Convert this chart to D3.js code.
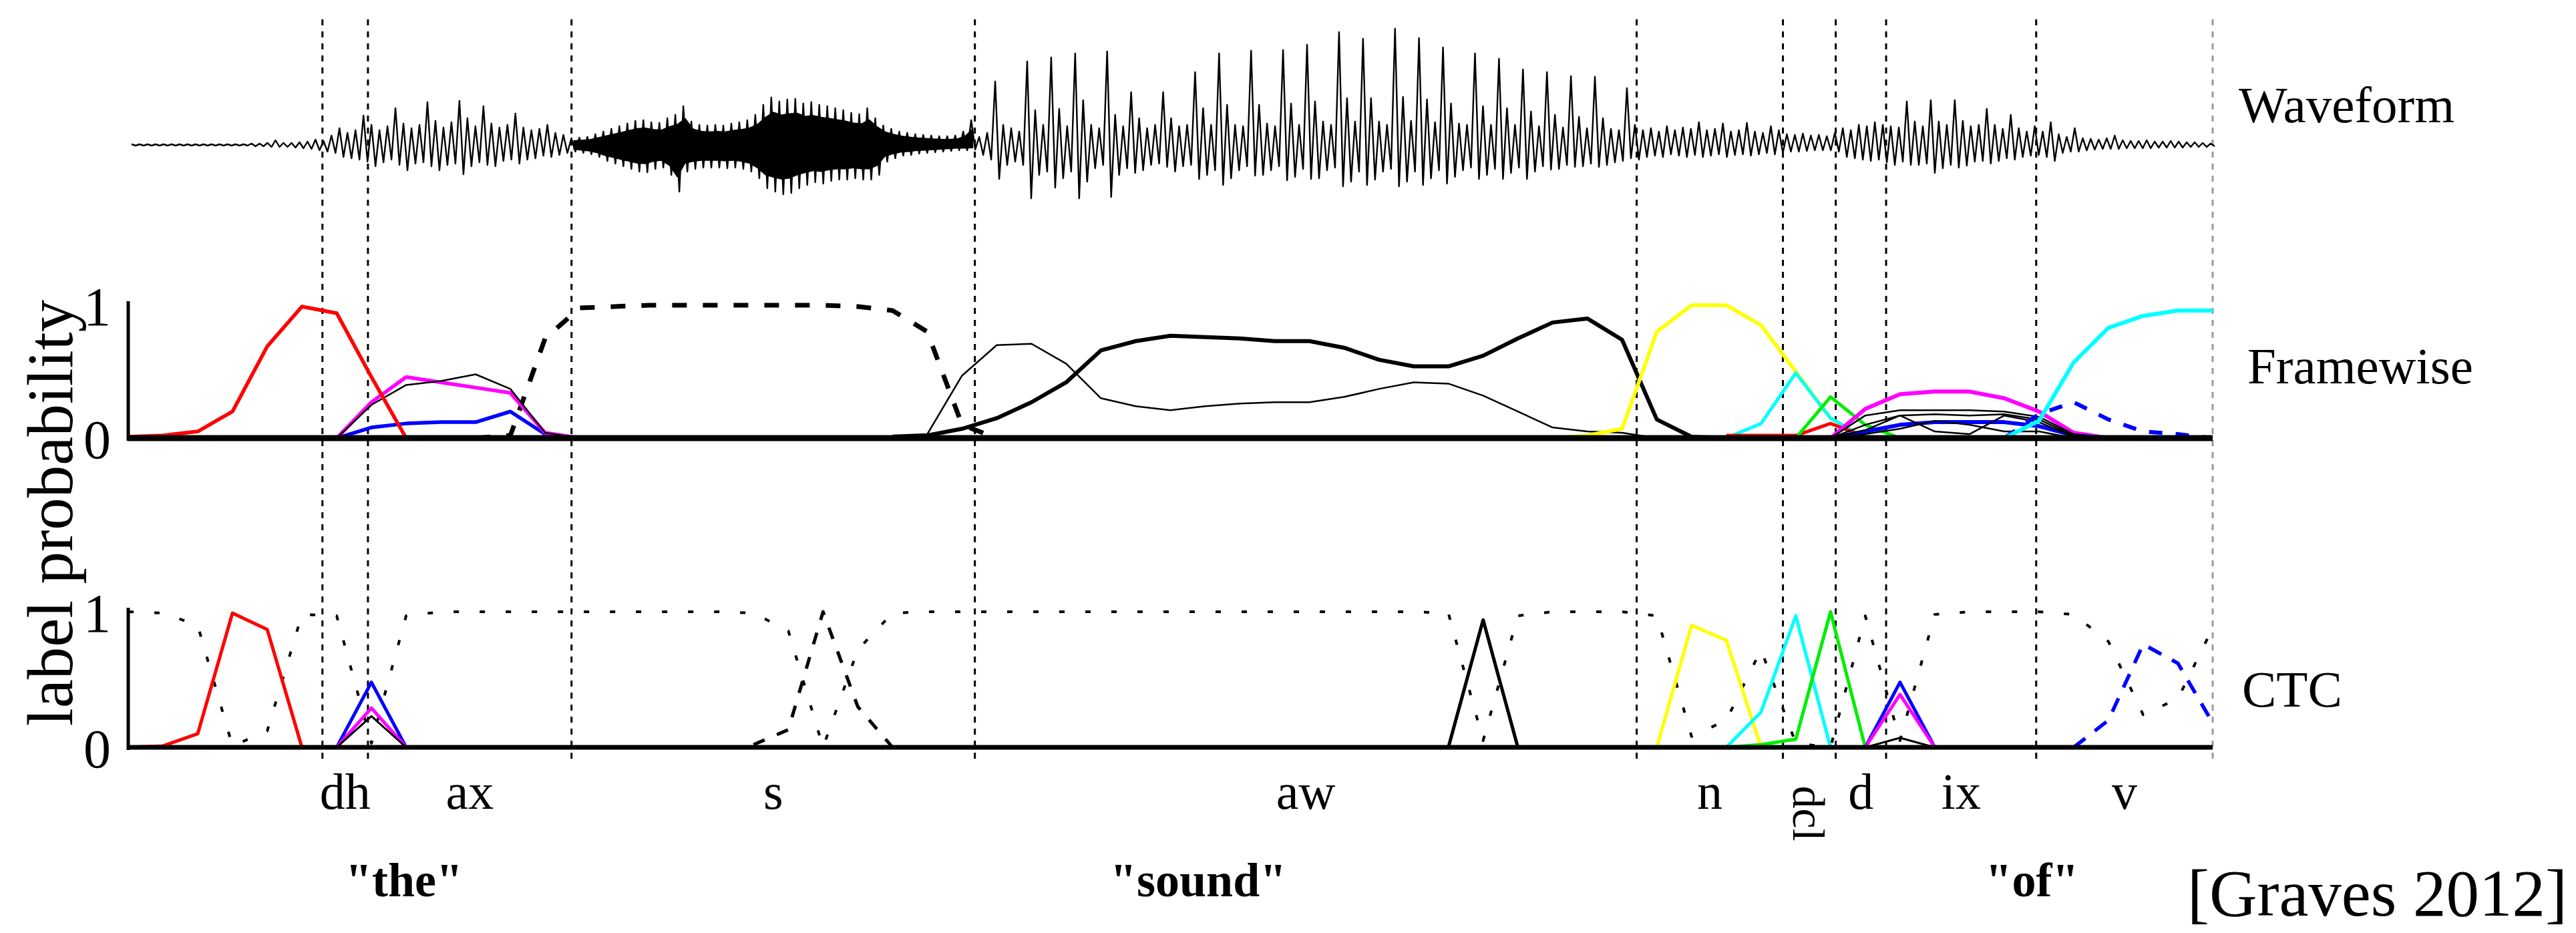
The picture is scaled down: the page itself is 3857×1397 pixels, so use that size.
<!DOCTYPE html>
<html><head><meta charset="utf-8">
<script src="https://cdn.jsdelivr.net/npm/d3@7"></script>
<style>body{margin:0;background:#fff}text{font-family:"Liberation Serif","Times New Roman",serif;fill:#000}</style>
</head><body>
<svg id="chart" width="3857" height="1397"></svg>
<script>
// ---------- DATA ----------
// phone boundaries (in frames) and labels
const boundaries = [5.59, 6.9, 12.76, 24.37, 43.42, 47.63, 49.15, 50.6, 54.92, 60];
const phoneLabels = ["dh", "ax", "s", "aw", "n", "dcl", "d", "ix", "v"];
const wordLabels = ['"the"', '"sound"', '"of"'];
const wordFrames = [7.94, 30.8, 54.8];
const panelNames = ["Waveform", "Framewise", "CTC"];
const tickValues = [0, 1];

// waveform envelope per time bucket (max, min amplitude)
const waveHi = [1,1,1,1,1,1,1,1,1,1,1,1,1,1,1,2,2,3,7,3,3,4,5,
 8,6,14,25,18,22,44,30,22,28,55,32,25,30,64,36,26,34,66,40,28,58,32,26,30,47,26,22,24,30,18,15,
 10,11,12,16,20,24,28,32,36,37,34,33,40,45,58,35,30,29,30,29,32,34,37,45,60,71,65,68,69,62,64,60,58,55,52,48,46,55,40,29,24,20,18,16,15,14,13,13,14,20,37,
 12,18,95,30,25,20,125,52,30,131,54,28,137,67,30,25,140,45,28,79,40,25,30,79,40,28,30,109,55,30,137,60,30,28,141,60,32,28,142,62,30,150,65,35,30,169,70,35,159,70,35,30,174,72,36,160,68,34,146,62,32,30,137,58,30,129,55,30,113,50,28,109,45,26,103,42,25,102,40,24,22,85,30,
 22,25,20,28,22,26,24,34,22,24,32,20,22,33,20,18,28,22,16,15,17,14,15,13,18,25,22,30,28,34,30,
 28,26,65,35,28,67,35,30,67,36,28,30,54,30,24,45,25,20,28,20,34,16,12,25,10,9,8,10,14,7,6,6,7,5,5,6,5,4,4,3,2];
const waveLo = [-1,-1,-1,-1,-1,-1,-1,-1,-1,-1,-1,-1,-1,-1,-1,-2,-2,-3,-3,-3,-4,-5,-6,
 -8,-10,-12,-18,-20,-22,-25,-32,-26,-22,-30,-38,-28,-26,-32,-38,-30,-28,-44,-32,-26,-30,-32,-24,-22,-28,-22,-20,-16,-18,-15,-12,
 -10,-12,-14,-18,-24,-28,-32,-36,-40,-41,-36,-34,-45,-70,-40,-36,-34,-34,-34,-35,-34,-36,-40,-50,-65,-70,-74,-72,-65,-60,-56,-58,-54,-52,-52,-50,-52,-52,-45,-25,-20,-16,-15,-13,-12,-11,-10,-9,-8,-8,-7,
 -15,-22,-51,-30,-25,-30,-80,-45,-40,-64,-50,-40,-80,-55,-35,-30,-78,-45,-35,-42,-38,-30,-28,-33,-40,-32,-30,-51,-45,-38,-60,-50,-38,-32,-46,-45,-38,-32,-53,-48,-36,-51,-50,-38,-34,-62,-55,-40,-60,-52,-40,-36,-62,-55,-40,-60,-50,-38,-58,-48,-38,-34,-51,-45,-36,-51,-42,-34,-51,-40,-32,-37,-36,-30,-33,-32,-28,-33,-30,-26,-24,-20,-22,
 -18,-16,-18,-14,-16,-18,-15,-18,-16,-14,-18,-15,-14,-16,-14,-12,-14,-12,-10,-10,-9,-8,-8,-8,-10,-18,-20,-22,-24,-22,-26,
 -30,-25,-30,-30,-28,-42,-35,-30,-34,-31,-25,-24,-28,-24,-20,-22,-18,-16,-15,-18,-24,-12,-10,-10,-8,-7,-6,-6,-6,-5,-5,-5,-5,-4,-4,-4,-4,-3,-3,-3,-2];

// Framewise label probabilities (values from the given start frame)
const fwDh      = [0.01,0.02,0.05,0.2,0.69,0.99,0.94,0.46,0];            // from frame 0
const fwAxMag   = [0,0.27,0.46,0.42,0.38,0.34,0.04,0];                    // from 6
const fwAxBlack = [0,0.25,0.40,0.43,0.48,0.37,0.04,0];                    // from 6
const fwAxBlue  = [0,0.08,0.11,0.12,0.12,0.2,0.03,0];                     // from 6
const fwS       = [0,0.02,0.75,0.98,0.99,1,1,1,1,1,1,0.99,0.96,0.8,0.1,0]; // from 10
const fwAwThin  = [0.02,0.03,0.47,0.7,0.71,0.56,0.30,0.24,0.21,0.24,0.26,0.27,0.27,0.31,0.37,0.42,0.41,0.32,0.2,0.08,0.05,0.04,0]; // from 22
const fwAwThick = [0,0.02,0.07,0.15,0.27,0.42,0.66,0.73,0.77,0.76,0.75,0.73,0.73,0.68,0.59,0.54,0.54,0.62,0.75,0.87,0.9,0.74,0.14,0.01,0]; // from 22
const fwN       = [0,0.02,0.07,0.8,1,1,0.85,0.5,0.15,0];                  // from 41
const fwDcl     = [0,0,0.11,0.49,0.15,0];                                 // from 45
const fwD       = [0,0,0.31,0.1,0];                                       // from 47
const fwRedD    = [0.02,0.02,0.02,0.11,0.01,0];                           // from 46
const fwIxMag   = [0,0.22,0.33,0.35,0.35,0.3,0.2,0.04,0];                 // from 49
const fwIxBlue  = [0,0.05,0.1,0.12,0.12,0.12,0.09,0.02,0];                // from 49
const fwIxBlackA= [0,0.17,0.21,0.21,0.21,0.2,0.16,0.03,0];                // from 49
const fwIxBlackB= [0,0.1,0.17,0.18,0.17,0.18,0.14,0.02,0];                // from 49
const fwIxBlackC= [0,0.06,0.17,0.05,0.03,0.17,0.12,0.01,0];               // from 49
const fwIxBlackD= [0,0.03,0.07,0.13,0.1,0.05,0.05,0,0];                   // from 49
const fwV       = [0,0.18,0.27,0.14,0.05,0.03,0];                         // from 54
const fwSil     = [0,0.13,0.57,0.83,0.92,0.96,0.96];                      // from 54

// CTC label probabilities
const ctcBlank = [1,0.99,0.9,0.01,0.12,0.98,0.97,0.03,0.97,1,1,1,1,1,1,1,1,1,0.99,0.86,0,0.72,0.99,
 1,1,1,1,1,1,1,1,1,1,1,1,1,1,1,0.99,0.05,0.97,1,1,1,0.97,0.08,0.2,0.72,0.03,0,0.97,0.05,0.98,1,1,1,0.98,0.78,0.24,0.36,0.88]; // from 0
const ctcDh      = [0,0.01,0.1,0.99,0.87,0];   // from 0
const ctcAxBlue  = [0,0.48,0];                  // from 6
const ctcAxMag   = [0,0.29,0];                  // from 6
const ctcAxBlack = [0,0.23,0];                  // from 6
const ctcS       = [0.02,0.13,1,0.3,0];         // from 18
const ctcAw      = [0,0.94,0];                  // from 38
const ctcN       = [0,0,0.9,0.79,0];            // from 43
const ctcDcl     = [0,0,0.26,0.97,0];           // from 45
const ctcD       = [0,0.02,0.06,1,0];           // from 46
const ctcIxBlue  = [0,0.48,0];                  // from 50
const ctcIxMag   = [0,0.39,0];                  // from 50
const ctcIxBlack = [0,0.07,0];                  // from 50
const ctcV       = [0,0.2,0.76,0.62,0.18];      // from 56

// ---------- DRAWING ----------
const FONT = "Liberation Serif, Times New Roman, serif";
const svg = d3.select("#chart");
const x  = d3.scaleLinear().domain([0, 60]).range([192, 3313]);
const yFW = d3.scaleLinear().domain([0, 1]).range([656, 457]);
const yCT = d3.scaleLinear().domain([0, 1]).range([1119, 916]);
const xw = d3.scaleLinear().domain([0, waveHi.length - 1]).range([200, 3313]);
const yw = d3.scaleLinear().domain([-180, 180]).range([397, 37]);

// phone boundary lines
svg.append("g").selectAll("line").data(boundaries).join("line")
  .attr("x1", d => x(d)).attr("x2", d => x(d))
  .attr("y1", 29).attr("y2", 1144)
  .attr("stroke", (d, i) => i === boundaries.length - 1 ? "#9a9a9a" : "#000")
  .attr("stroke-width", 3).attr("stroke-dasharray", "9,9");

// waveform: dense noise core for the fricative segment
const sIdx = d3.range(waveHi.length).filter(k => {
  const f = x.invert(xw(k)); return f >= boundaries[2] && f <= boundaries[3];
});
svg.append("path").datum(sIdx)
  .attr("d", d3.area().x(k => xw(k)).y0(k => yw(waveLo[k] * 0.7)).y1(k => yw(waveHi[k] * 0.7)))
  .attr("fill", "#000");
const wpts = [];
waveHi.forEach((h, k) => { wpts.push([xw(k) - 3, yw(h)]); wpts.push([xw(k) + 3, yw(waveLo[k])]); });
svg.append("path").attr("d", d3.line()(wpts))
  .attr("fill", "none").attr("stroke", "#000").attr("stroke-width", 2.4).attr("stroke-linejoin", "round");

function drawSeries(list, y) {
  const g = svg.append("g").attr("fill", "none").attr("stroke-linejoin", "round");
  list.forEach(s => {
    const pts = s.v.map((v, i) => [x(s.start + i), y(v)]);
    g.append("path").attr("d", d3.line()(pts))
      .attr("stroke", s.c).attr("stroke-width", s.w)
      .attr("stroke-dasharray", s.dash || null);
  });
}

drawSeries([
  {v: fwS, start: 10, c: "#000", w: 7, dash: "22,24"},
  {v: fwAwThin, start: 22, c: "#000", w: 2.5},
  {v: fwAwThick, start: 22, c: "#000", w: 6},
  {v: fwAxBlue, start: 6, c: "#0000ff", w: 5.5},
  {v: fwAxMag, start: 6, c: "#ff00ff", w: 5.5},
  {v: fwAxBlack, start: 6, c: "#000", w: 2.5},
  {v: fwDh, start: 0, c: "#ff0000", w: 5.5},
  {v: fwN, start: 41, c: "#ffff00", w: 5.5},
  {v: fwDcl, start: 45, c: "#00ffff", w: 5},
  {v: fwRedD, start: 46, c: "#ff0000", w: 5},
  {v: fwD, start: 47, c: "#00ee00", w: 5},
  {v: fwIxMag, start: 49, c: "#ff00ff", w: 6},
  {v: fwIxBlue, start: 49, c: "#0000ff", w: 6},
  {v: fwIxBlackA, start: 49, c: "#000", w: 2.5},
  {v: fwIxBlackB, start: 49, c: "#000", w: 2.5},
  {v: fwIxBlackC, start: 49, c: "#000", w: 2.5},
  {v: fwIxBlackD, start: 49, c: "#000", w: 2.5},
  {v: fwV, start: 54, c: "#0000ff", w: 6, dash: "20,20"},
  {v: fwSil, start: 54, c: "#00ffff", w: 6}
], yFW);

drawSeries([
  {v: ctcBlank, start: 0, c: "#000", w: 4, dash: "8,31"},
  {v: ctcS, start: 18, c: "#000", w: 5, dash: "18,20"},
  {v: ctcAw, start: 38, c: "#000", w: 5},
  {v: ctcDh, start: 0, c: "#ff0000", w: 5},
  {v: ctcAxBlue, start: 6, c: "#0000ff", w: 5},
  {v: ctcAxMag, start: 6, c: "#ff00ff", w: 5},
  {v: ctcAxBlack, start: 6, c: "#000", w: 3},
  {v: ctcN, start: 43, c: "#ffff00", w: 5},
  {v: ctcDcl, start: 45, c: "#00ffff", w: 5},
  {v: ctcD, start: 46, c: "#00ee00", w: 5},
  {v: ctcIxBlue, start: 50, c: "#0000ff", w: 5},
  {v: ctcIxMag, start: 50, c: "#ff00ff", w: 5},
  {v: ctcIxBlack, start: 50, c: "#000", w: 3},
  {v: ctcV, start: 56, c: "#0000ff", w: 5.5, dash: "22,18"}
], yCT);

// baselines
svg.append("line").attr("x1", x(0)).attr("x2", x(60)).attr("y1", yFW(0)).attr("y2", yFW(0))
  .attr("stroke", "#000").attr("stroke-width", 9);
svg.append("line").attr("x1", x(0)).attr("x2", x(60)).attr("y1", yCT(0)).attr("y2", yCT(0))
  .attr("stroke", "#000").attr("stroke-width", 7);

// y axes
function yAxis(scale) {
  const g = svg.append("g").attr("transform", `translate(${x(0)},0)`)
    .call(d3.axisLeft(scale).tickValues(tickValues).tickSize(0).tickPadding(26).tickFormat(d3.format("d")));
  g.attr("font-family", FONT);
  g.select(".domain").attr("stroke-width", 5).attr("d", `M0,${scale(0) + 4}V${scale(1) - 6}`);
  g.selectAll("text").attr("font-size", 82).attr("font-family", FONT).attr("dy", "0.36em");
}
yAxis(yFW); yAxis(yCT);

svg.append("text").attr("transform", "translate(108,768) rotate(-90)").attr("font-family", FONT)
  .attr("text-anchor", "middle").attr("font-size", 97).text("label probability");

// panel names
const nameY = [183, 574, 1058], nameX = [3352, 3365, 3357];
panelNames.forEach((n, i) => svg.append("text").attr("x", nameX[i]).attr("y", nameY[i])
  .attr("font-family", FONT).attr("font-size", 77).text(n));

// phone labels at segment centres
const segCenters = phoneLabels.map((p, i) => (boundaries[i] + boundaries[i + 1]) / 2);
phoneLabels.forEach((p, i) => {
  const cx = x(segCenters[i]);
  if (p === "dcl") {
    svg.append("text").attr("transform", `translate(${cx},1218) rotate(90)`).attr("font-family", FONT)
      .attr("text-anchor", "middle").attr("dy", "0.35em").attr("font-size", 68).text(p);
  } else {
    svg.append("text").attr("x", cx).attr("y", 1211).attr("text-anchor", "middle")
      .attr("font-family", FONT).attr("font-size", 76).text(p);
  }
});

// word labels
wordLabels.forEach((w, i) => svg.append("text").attr("x", x(wordFrames[i])).attr("y", 1342)
  .attr("text-anchor", "middle").attr("font-family", FONT).attr("font-size", 72).attr("font-weight", "bold").text(w));

svg.append("text").attr("x", 3275).attr("y", 1371).attr("font-family", FONT).attr("font-size", 99).text("[Graves 2012]");
</script>
</body></html>
